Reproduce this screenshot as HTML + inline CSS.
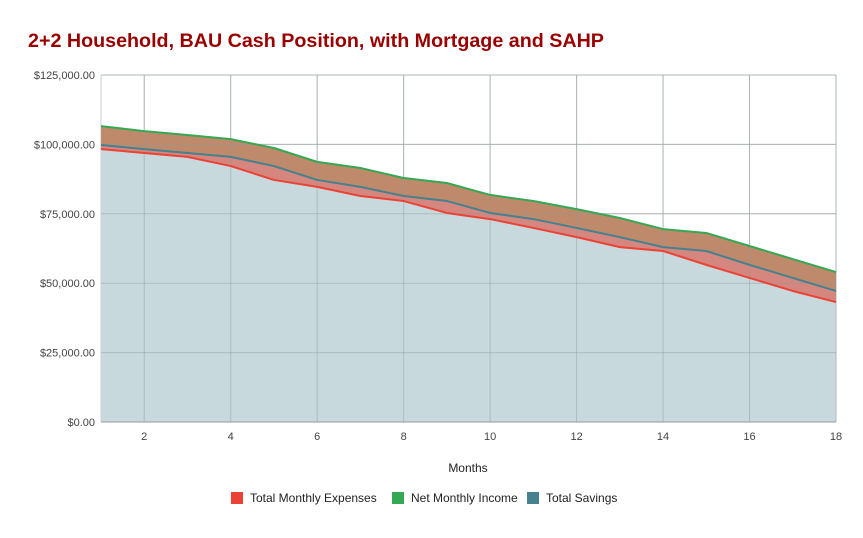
<!DOCTYPE html>
<html><head><meta charset="utf-8"><style>
body{margin:0;background:#fff;font-family:"Liberation Sans",Arial,sans-serif}
</style></head><body>
<svg id="chart" width="863" height="533" xmlns="http://www.w3.org/2000/svg">
<rect width="863" height="533" fill="#fff"/>
<text x="28" y="47" font-size="19.7" font-weight="bold" fill="#990000">2+2 Household, BAU Cash Position, with Mortgage and SAHP</text>
<g id="plot"></g>
<text x="468" y="472" font-size="12" text-anchor="middle" fill="#222">Months</text>
<g id="legend"></g>
</svg>
<script>
const months=[1,2,3,4,5,6,7,8,9,10,11,12,13,14,15,16,17,18];
const income=[106600,104800,103400,101900,98700,93700,91500,87900,86100,81800,79600,76700,73500,69500,68100,63400,58700,54000];
const savings=[99800,98300,96900,95500,92200,87200,84700,81400,79600,75300,73100,69900,66600,63000,61600,56600,51900,47200];
const expenses=[98300,96900,95500,92200,87200,84700,81400,79600,75300,73100,69900,66600,63000,61600,56600,51900,47200,43200];
const yTicks=[0,25000,50000,75000,100000,125000];
const xTicks=[2,4,6,8,10,12,14,16,18];
const NS="http://www.w3.org/2000/svg";
const L=101,R=836,T=75,B=422;
const x=m=>L+(m-1)/17*(R-L);
const y=v=>B-v/125000*(B-T);
const plot=document.getElementById('plot');
function mk(t,a,p){const e=document.createElementNS(NS,t);for(const k in a)e.setAttribute(k,a[k]);(p||plot).appendChild(e);return e;}
yTicks.forEach(v=>{const l=mk('line',{x1:L,x2:R,y1:y(v),y2:y(v),stroke:'#cccccc','stroke-width':1});

});
xTicks.concat([1]).forEach(m=>{const l=mk('line',{x1:x(m),x2:x(m),y1:T,y2:B,stroke:'#cccccc','stroke-width':1});

});
mk('line',{x1:R,x2:R,y1:T,y2:B,stroke:'#cccccc'});
function pts(arr){return months.map((m,i)=>x(m)+','+y(arr[i])).join(' ');}
function band(top,bot,fill,name){
 const p=months.map((m,i)=>x(m)+','+y(top[i])).concat(months.slice().reverse().map((m,j)=>{const i=months.length-1-j;return x(m)+','+y(bot?bot[i]:0);})).join(' ');
 const e=mk('polygon',{points:p,fill:fill});
 
 
}
band(income,savings,'#bf8a6b','income-area');
band(savings,expenses,'#d5877f','savings-area');
band(expenses,null,'#c8d9dd','expenses-area');
yTicks.forEach(v=>mk('line',{x1:L,x2:R,y1:y(v),y2:y(v),stroke:'#8a9a9e','stroke-opacity':0.45}));
xTicks.forEach(m=>mk('line',{x1:x(m),x2:x(m),y1:T,y2:B,stroke:'#8a9a9e','stroke-opacity':0.45}));
mk('line',{x1:L,x2:R,y1:B,y2:B,stroke:'#999'});
[[expenses,'#ea4335','expenses-line'],[savings,'#45818e','savings-line'],[income,'#34a853','income-line']].forEach(([a,c,n])=>{
 const e=mk('polyline',{points:pts(a),fill:'none',stroke:c,'stroke-width':2,'stroke-linejoin':'round'});
 
 
});
yTicks.forEach(v=>{const t=mk('text',{x:95,y:y(v)+4,'font-size':11,'text-anchor':'end',fill:'#444'});
t.textContent='$'+v.toLocaleString('en-US',{minimumFractionDigits:2});

});
xTicks.forEach(m=>{const t=mk('text',{x:x(m),y:440,'font-size':11,'text-anchor':'middle',fill:'#444'});
t.textContent=m;

});
const lg=document.getElementById('legend');
const legendNames=['Total Monthly Expenses','Net Monthly Income','Total Savings'];
const legendColors=['#ea4335','#34a853','#45818e'];
const legendX=[231,392,527];
legendNames.forEach((n,i)=>{
 const g=mk('g',{},lg);
 
 
 mk('rect',{x:legendX[i],y:492,width:12,height:12,fill:legendColors[i]},g);
 const t=mk('text',{x:legendX[i]+19,y:502,'font-size':12,fill:'#222'},g);t.textContent=n;
});
</script>
</body></html>
